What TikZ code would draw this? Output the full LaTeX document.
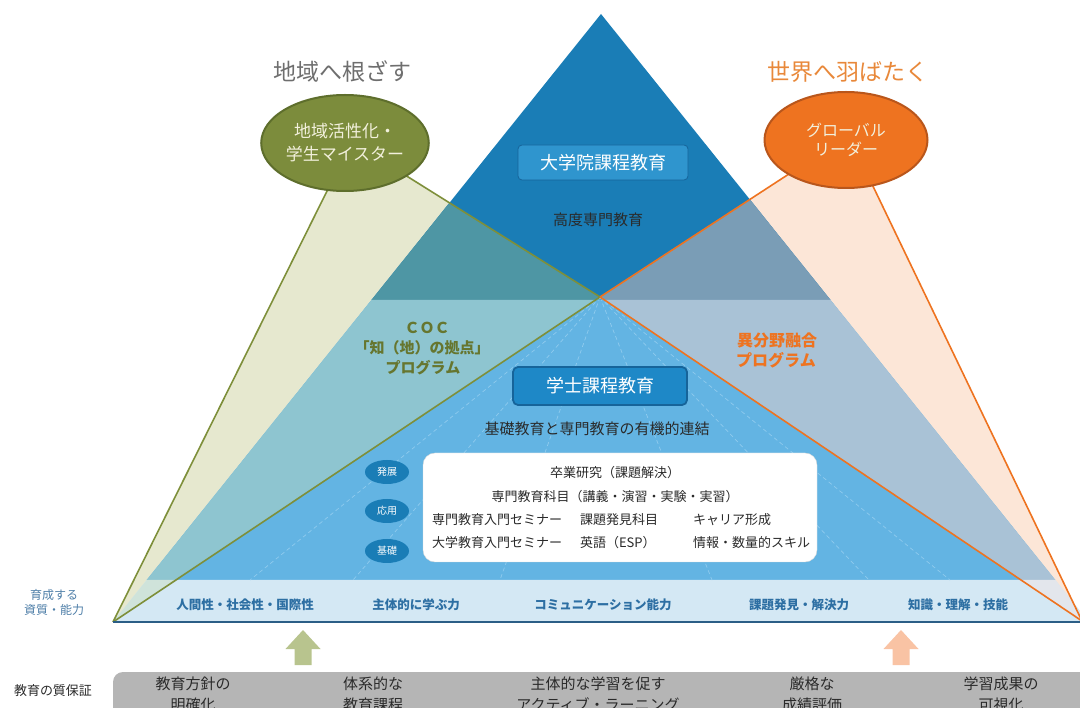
\documentclass[tikz,border=0pt]{standalone}
\usepackage{fontspec}
\setmainfont{Noto Sans CJK JP}
\usetikzlibrary{calc,shapes.geometric,arrows.meta}
\definecolor{dkblue}{HTML}{1A7DB6}
\definecolor{ltblue}{HTML}{63B4E3}
\definecolor{bandblue}{HTML}{D4E8F4}
\definecolor{gfanW}{HTML}{E6E8CF}
\definecolor{gfanD}{HTML}{4E96A4}
\definecolor{gfanL}{HTML}{8EC5D0}
\definecolor{gfanB}{HTML}{CFE3DA}
\definecolor{ofanW}{HTML}{FCE6D7}
\definecolor{ofanD}{HTML}{7A9DB6}
\definecolor{ofanL}{HTML}{A9C2D6}
\definecolor{ofanB}{HTML}{E3E6EC}
\definecolor{olive}{HTML}{7C8C3C}
\definecolor{olivedk}{HTML}{5E6E2C}
\definecolor{olivetxt}{HTML}{66762F}
\definecolor{orng}{HTML}{EE7320}
\definecolor{orngdk}{HTML}{B9561B}
\definecolor{gline}{HTML}{7E8F3A}
\definecolor{labelblue}{HTML}{2D6FA3}
\definecolor{leftblue}{HTML}{4F7FA8}
\definecolor{greyband}{HTML}{B5B5B5}
\definecolor{cream}{HTML}{F2F0DC}
\definecolor{titlegrey}{HTML}{6E6E6E}
\definecolor{titleorng}{HTML}{E8883A}
\definecolor{boxblueA}{HTML}{2F95CE}
\definecolor{boxblueB}{HTML}{1E88C7}
\definecolor{boxedge}{HTML}{16649A}
\definecolor{txtdark}{HTML}{2A2A2A}
\definecolor{radial}{HTML}{8FCBEE}
\definecolor{baseline}{HTML}{2B5E86}
\definecolor{garrow}{HTML}{B8C48E}
\definecolor{oarrow}{HTML}{F9C3A4}
\begin{document}
\begin{tikzpicture}[x=1pt,y=-1pt,
  every node/.style={inner sep=0pt, outer sep=0pt},
  title/.style={font=\fontsize{23}{26}\selectfont},
  gl/.style={draw=gline, line width=1.6pt},
  ol/.style={draw=orng, line width=1.6pt},
  radline/.style={draw=radial, line width=0.7pt, dash pattern=on 4pt off 3pt},
  bigell/.style={ellipse, line width=2pt, minimum width=163pt, minimum height=96pt, align=center, text=cream, font=\fontsize{17}{23}\selectfont},
  headbox/.style={draw=boxedge, rounded corners=5pt, text=white, font=\fontsize{18}{20}\selectfont},
  darktxt/.style={text=txtdark, font=\fontsize{15}{18}\selectfont},
  wbtxt/.style={text=txtdark, font=\fontsize{13}{15}\selectfont},
  lvl/.style={ellipse, fill=dkblue, minimum width=44pt, minimum height=24pt, text=white, font=\fontsize{10}{12}\selectfont},
  coc/.style={text=olivetxt, font=\bfseries\fontsize{15}{18}\selectfont},
  prog/.style={text=orng, font=\bfseries\fontsize{16}{19}\selectfont},
  band/.style={text=labelblue, font=\bfseries\fontsize{12.5}{15}\selectfont},
  side/.style={text=leftblue, font=\fontsize{12}{15}\selectfont, align=center},
  bottxt/.style={text=txtdark, font=\fontsize{15}{21}\selectfont, align=center},
]
\useasboundingbox (0,0) rectangle (1080,708);
\clip (0,0) rectangle (1080,708);
% key points
\coordinate (A) at (601,14);
\coordinate (L) at (113,622);
\coordinate (R) at (1089,622);
\coordinate (Rc) at (1082,621);
\coordinate (C) at (600,297);
\coordinate (UL) at ($(A)!0.4704!(L)$);
\coordinate (UR) at ($(A)!0.4704!(R)$);
\coordinate (BL) at ($(A)!0.9309!(L)$);
\coordinate (BR) at ($(A)!0.9309!(R)$);
\coordinate (GE) at (345,143);
\coordinate (OE) at (846,140);
\coordinate (G1) at (330,185);
\coordinate (G2) at (405,175);
\coordinate (O1) at (792,172);
\coordinate (O2) at (870,180);
% fans over white
\fill[gfanW] (L) -- (G1) -- (GE) -- (G2) -- (C) -- cycle;
\fill[ofanW] (C) -- (O1) -- (OE) -- (O2) -- (Rc) -- cycle;
% pyramid
\fill[dkblue] (A) -- (UL) -- (UR) -- cycle;
\fill[ltblue] (UL) -- (UR) -- (BR) -- (BL) -- cycle;
\fill[bandblue] (BL) -- (BR) -- (R) -- (L) -- cycle;
% fans over pyramid
\begin{scope}
\clip (L) -- (G1) -- (GE) -- (G2) -- (C) -- cycle;
\fill[gfanD] (A) -- (UL) -- (UR) -- cycle;
\fill[gfanL] (UL) -- (UR) -- (BR) -- (BL) -- cycle;
\fill[gfanB] (BL) -- (BR) -- (R) -- (L) -- cycle;
\end{scope}
\begin{scope}
\clip (C) -- (O1) -- (OE) -- (O2) -- (Rc) -- cycle;
\fill[ofanD] (A) -- (UL) -- (UR) -- cycle;
\fill[ofanL] (UL) -- (UR) -- (BR) -- (BL) -- cycle;
\fill[ofanB] (BL) -- (BR) -- (R) -- (L) -- cycle;
\end{scope}
% radial dashed lines
\coordinate (D1) at (250,580);
\coordinate (D2) at (353,580);
\coordinate (D3) at (500,580);
\coordinate (D4) at (712,580);
\coordinate (D5) at (869,580);
\coordinate (D6) at (950,580);
\foreach \d in {D1,D2,D3,D4,D5,D6} { \draw[radline] (C) -- (\d); }
% fan lines
\draw[gl] (L) -- (G1);
\draw[gl] (G2) -- (C);
\draw[gl] (C) -- (L);
\draw[ol] (O1) -- (C);
\draw[ol] (C) -- (Rc);
\draw[ol] (O2) -- (Rc);
\draw[draw=baseline, line width=2pt] (L) -- (R);
% ellipses and titles
\node[bigell, draw=olivedk, fill=olive] (gell) at (GE) {地域活性化・\\学生マイスター};
\node[bigell, draw=orngdk, fill=orng, font=\fontsize{16}{19}\selectfont] (oell) at (OE) {\rule{0pt}{6pt}グローバル\\リーダー};
\node[title, text=titlegrey] (t1) at (342,72) {地域へ根ざす};
\node[title, text=titleorng] (t2) at (848,72) {世界へ羽ばたく};
% graduate
\node[headbox, fill=boxblueA, minimum width=170pt, minimum height=35pt, rounded corners=4pt, line width=0.8pt] (grad) at (603,162.5) {大学院課程教育};
\node[darktxt] (kodo) at (598,220) {高度専門教育};
% programmes
\node[coc] (coc1) at (427,328) {ＣＯＣ};
\node[coc] (coc2) at (422,348) {「知（地）の拠点」};
\node[coc] (coc3) at (423,368) {プログラム};
\node[prog] (p1) at (777,340) {異分野融合};
\node[prog] (p2) at (776,360) {プログラム};
% undergraduate
\node[headbox, fill=boxblueB, minimum width=174pt, minimum height=38pt, line width=1.8pt] (ug) at (600,386) {学士課程教育};
\node[darktxt] (kiso) at (597,429) {基礎教育と専門教育の有機的連結};
\node[draw=black!15, fill=white, rounded corners=12pt, minimum width=394pt, minimum height=109pt] (wb) at (620,507.5) {};
\node[wbtxt] (r1) at (615,473) {卒業研究（課題解決）};
\node[wbtxt] (r2) at (615,497) {専門教育科目（講義・演習・実験・実習）};
\node[wbtxt, anchor=west] (r3a) at (432,520) {専門教育入門セミナー};
\node[wbtxt, anchor=west] (r3b) at (580,520) {課題発見科目};
\node[wbtxt, anchor=west] (r3c) at (693,520) {キャリア形成};
\node[wbtxt, anchor=west] (r4a) at (432,543) {大学教育入門セミナー};
\node[wbtxt, anchor=west] (r4b) at (580,543) {英語（ESP）};
\node[wbtxt, anchor=west] (r4c) at (693,543) {情報・数量的スキル};
\node[lvl] (lv1) at (387,472) {発展};
\node[lvl] (lv2) at (387,511) {応用};
\node[lvl] (lv3) at (387,551) {基礎};
% band labels
\node[band] (b1) at (245,605) {人間性・社会性・国際性};
\node[band] (b2) at (416,605) {主体的に学ぶ力};
\node[band] (b3) at (603,605) {コミュニケーション能力};
\node[band] (b4) at (799,605) {課題発見・解決力};
\node[band] (b5) at (958,605) {知識・理解・技能};
\node[side] (s1) at (54,602) {育成する\\資質・能力};
% arrows
\coordinate (GA1) at (303,665);
\coordinate (GA2) at (303,630);
\coordinate (OA1) at (901,665);
\coordinate (OA2) at (901,630);
\fill[garrow] ($(GA1)+(-8.5,0)$) -- ($(GA1)+(-8.5,-16)$) -- ($(GA1)+(-17.5,-16)$) -- (GA2) -- ($(GA1)+(17.5,-16)$) -- ($(GA1)+(8.5,-16)$) -- ($(GA1)+(8.5,0)$) -- cycle;
\fill[oarrow] ($(OA1)+(-8.5,0)$) -- ($(OA1)+(-8.5,-16)$) -- ($(OA1)+(-17.5,-16)$) -- (OA2) -- ($(OA1)+(17.5,-16)$) -- ($(OA1)+(8.5,-16)$) -- ($(OA1)+(8.5,0)$) -- cycle;
% bottom band
\fill[greyband, rounded corners=10pt] (113,672) rectangle (1110,740);
\node[text=txtdark, font=\fontsize{13}{15}\selectfont] (qa) at (53,691) {教育の質保証};
\node[bottxt, anchor=north] (q1) at (193,677) {教育方針の\\明確化};
\node[bottxt, anchor=north] (q2) at (373,677) {体系的な\\教育課程};
\node[bottxt, anchor=north] (q3) at (598,677) {主体的な学習を促す\\アクティブ・ラーニング};
\node[bottxt, anchor=north] (q4) at (812,677) {厳格な\\成績評価};
\node[bottxt, anchor=north] (q5) at (1001,677) {学習成果の\\可視化};
\end{tikzpicture}
\end{document}
